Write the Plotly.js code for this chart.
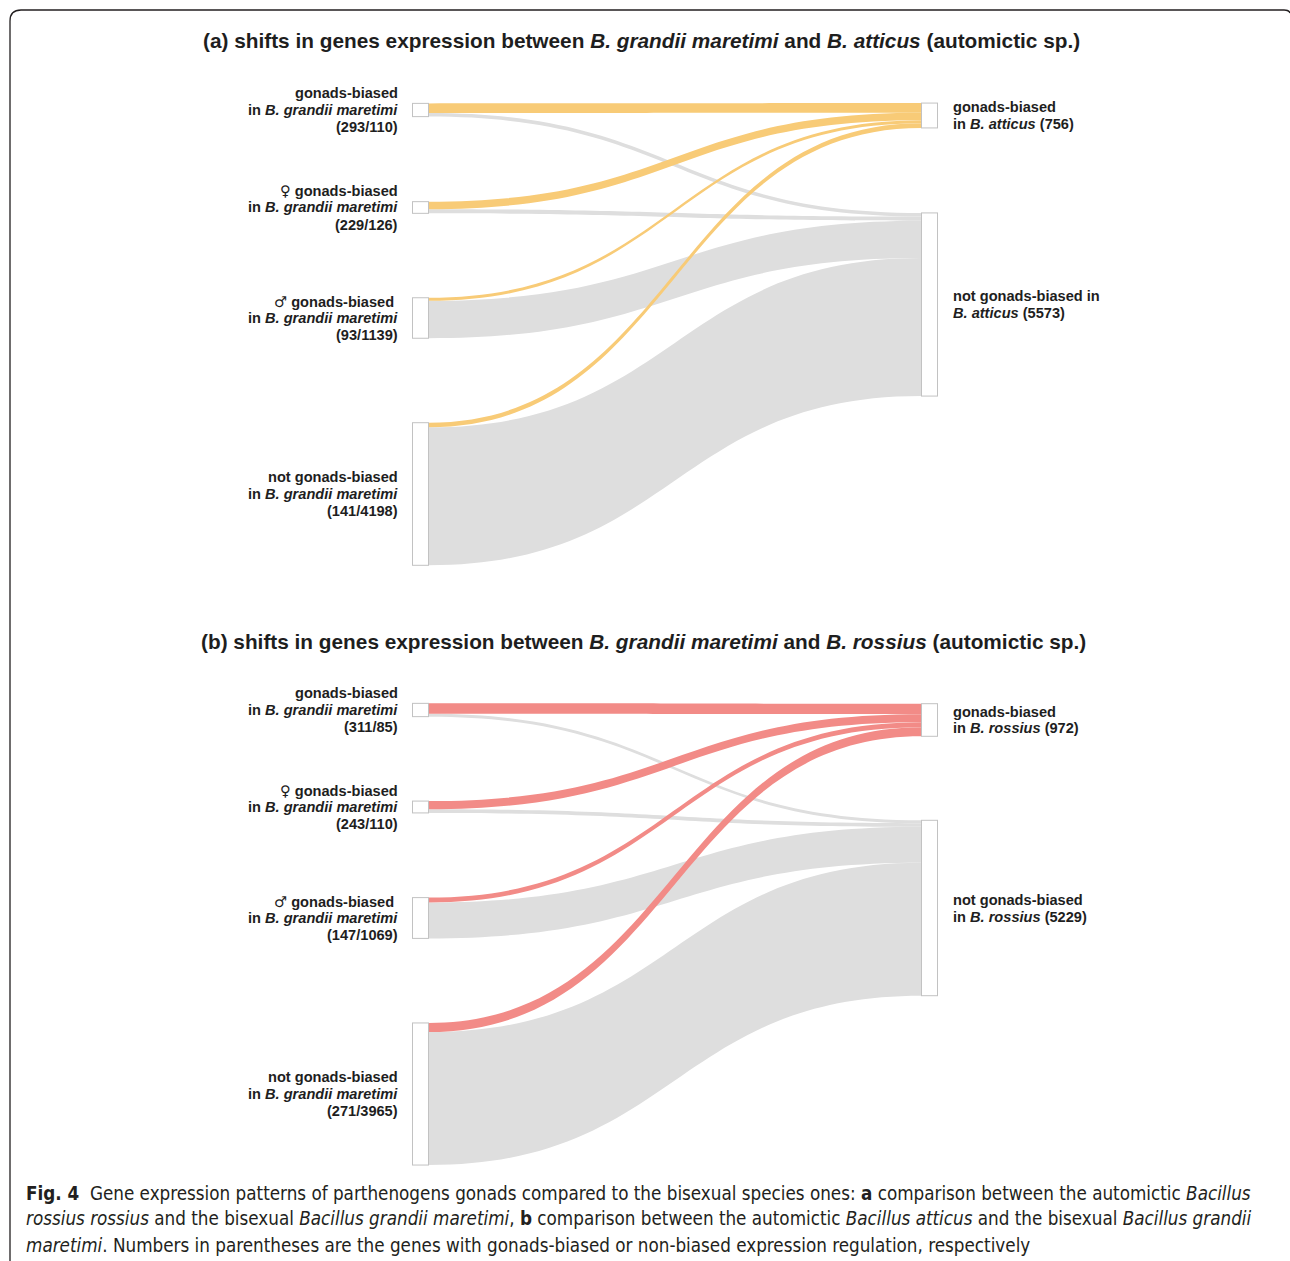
<!DOCTYPE html>
<html>
<head>
<meta charset="utf-8">
<script src="https://cdn.plot.ly/plotly-3.0.1.min.js"></script>
<style>html,body{margin:0;padding:0;background:#fff;}#chart{width:1290px;height:1261px;}</style>
</head>
<body>
<div id="chart"></div>
<script>
// ---------- data ----------
const SYM = s => '<span style="font-family:DejaVu Sans;font-weight:normal">' + s + '</span> ';
const leftCategories = ['gonads-biased', SYM('\u2640') + 'gonads-biased', SYM('\u2642') + 'gonads-biased ', 'not gonads-biased'];
const rightCategories = ['gonads-biased', 'not gonads-biased'];
// panel (a): B. grandii maretimi vs B. atticus
const aBiased    = [293, 229, 93, 141];   // -> gonads-biased in B. atticus
const aNotBiased = [110, 126, 1139, 4198]; // -> not gonads-biased in B. atticus
// panel (b): B. grandii maretimi vs B. rossius
const bBiased    = [311, 243, 147, 271];
const bNotBiased = [85, 110, 1069, 3965];

// ---------- layout helpers ----------
const W = 1290, H = 1261;
const fx = px => px / W;
const fy = py => 1 - py / H;
const sum = a => a.reduce((s, v) => s + v, 0);

const GREY = '#dedede';
const FONT = 'Liberation Sans, Arial, Helvetica, sans-serif';

function sankeyTrace(biased, notBiased, top, bottom, leftCenters, rightCenters, hiColor) {
  const h = bottom - top;
  const source = [], target = [], value = [], color = [];
  notBiased.forEach((v, i) => { source.push(i); target.push(5); value.push(v); color.push(GREY); });
  biased.forEach((v, i) => { source.push(i); target.push(4); value.push(v); color.push(hiColor); });
  const pad = (h - 208) / 3;
  const nodeY = leftCenters.concat(rightCenters).map(c => (c - top) / h);
  const nodeX = [0, 0, 0, 0].map(() => 420.5 / W).concat([929.5 / W, 929.5 / W]);
  return {
    type: 'sankey',
    arrangement: 'fixed',
    domain: { x: [0, 1], y: [fy(bottom), fy(top)] },
    node: {
      label: ['', '', '', '', '', ''],
      x: nodeX, y: nodeY,
      pad: pad, thickness: 16,
      color: 'rgba(255,255,255,1)',
      line: { color: '#c2c2c2', width: 1 },
      hoverinfo: 'none'
    },
    link: { source, target, value, color, hoverinfo: 'none' }
  };
}

const aLeftC = [110, 207.5, 318, 494], aRightC = [115.5, 304.5];
const bLeftC = [710, 807, 918, 1094], bRightC = [720, 908];
const traceA = sankeyTrace(aBiased, aNotBiased, 103, 565, aLeftC, aRightC, '#f8cb77');
const traceB = sankeyTrace(bBiased, bNotBiased, 703, 1165, bLeftC, bRightC, '#f28b87');

const annotations = [];
function ann(text, x, y, xanchor, size, extra) {
  annotations.push(Object.assign({
    text, x: fx(x), y: fy(y), xref: 'paper', yref: 'paper',
    xanchor, yanchor: 'middle', showarrow: false, align: xanchor === 'right' ? 'right' : (xanchor === 'left' ? 'left' : 'center'),
    font: { family: FONT, size, color: '#1e1e1e', weight: 'bold' }
  }, extra || {}));
}
function block(lines, x, yc, xanchor, size, step) {
  const n = lines.length;
  lines.forEach((t, i) => ann(t, x, yc + (i - (n - 1) / 2) * step, xanchor, size));
}

// titles
ann('(a) shifts in genes expression between <i>B. grandii maretimi</i> and <i>B. atticus</i> (automictic sp.)', 641, 41, 'center', 20.8);
ann('(b) shifts in genes expression between <i>B. grandii maretimi</i> and <i>B. rossius</i> (automictic sp.)', 643, 641, 'center', 20.8);

const LS = 14.6;
// left labels
function leftLabels(biased, notBiased, centers) {
  leftCategories.forEach((c, i) => {
    block([c, 'in <i>B. grandii maretimi</i>', '(' + biased[i] + '/' + notBiased[i] + ')'], 400, centers[i], 'right', LS, 17);
  });
}
leftLabels(aBiased, aNotBiased, aLeftC);
leftLabels(bBiased, bNotBiased, bLeftC);

// right labels
block([rightCategories[0], 'in <i>B. atticus</i> (' + sum(aBiased) + ')'], 951, aRightC[0], 'left', LS, 17);
block([rightCategories[1] + ' in', '<i>B. atticus</i> (' + sum(aNotBiased) + ')'], 951, aRightC[1], 'left', LS, 17);
block([rightCategories[0], 'in <i>B. rossius</i> (' + sum(bBiased) + ')'], 951, bRightC[0], 'left', LS, 17);
block([rightCategories[1], 'in <i>B. rossius</i> (' + sum(bNotBiased) + ')'], 951, bRightC[1], 'left', LS, 17);

// caption
const CAP = 'Liberation Sans Narrow, DejaVu Sans Condensed, Arial Narrow, sans-serif';
const capLines = [
  '<b>Fig. 4</b>  Gene expression patterns of parthenogens gonads compared to the bisexual species ones: <b>a</b> comparison between the automictic <i>Bacillus</i>',
  '<i>rossius rossius</i> and the bisexual <i>Bacillus grandii maretimi</i>, <b>b</b> comparison between the automictic <i>Bacillus atticus</i> and the bisexual <i>Bacillus grandii</i>',
  '<i>maretimi</i>. Numbers in parentheses are the genes with gonads-biased or non-biased expression regulation, respectively'
];
[1193, 1218, 1245].forEach((y, i) => {
  annotations.push({
    text: capLines[i], x: fx(24), y: fy(y), xref: 'paper', yref: 'paper',
    xanchor: 'left', yanchor: 'middle', showarrow: false, align: 'left',
    font: { family: CAP, size: 18.7, color: '#231f20' }
  });
});

// frame
const framePath = 'M ' + fx(10) + ',' + fy(1261) + ' L ' + fx(10) + ',' + fy(21) +
  ' Q ' + fx(10) + ',' + fy(10) + ' ' + fx(21) + ',' + fy(10) +
  ' L ' + fx(1284) + ',' + fy(10) + ' Q ' + fx(1289) + ',' + fy(10) + ' ' + fx(1290) + ',' + fy(13);

const layout = {
  width: W, height: H,
  margin: { l: 0, r: 0, t: 0, b: 0 },
  paper_bgcolor: '#ffffff',
  showlegend: false,
  annotations,
  shapes: [{ type: 'path', xref: 'paper', yref: 'paper', path: framePath, line: { color: '#231f20', width: 1.3 } }]
};

Plotly.newPlot('chart', [traceA, traceB], layout, { displayModeBar: false, staticPlot: true });
</script>
</body>
</html>
